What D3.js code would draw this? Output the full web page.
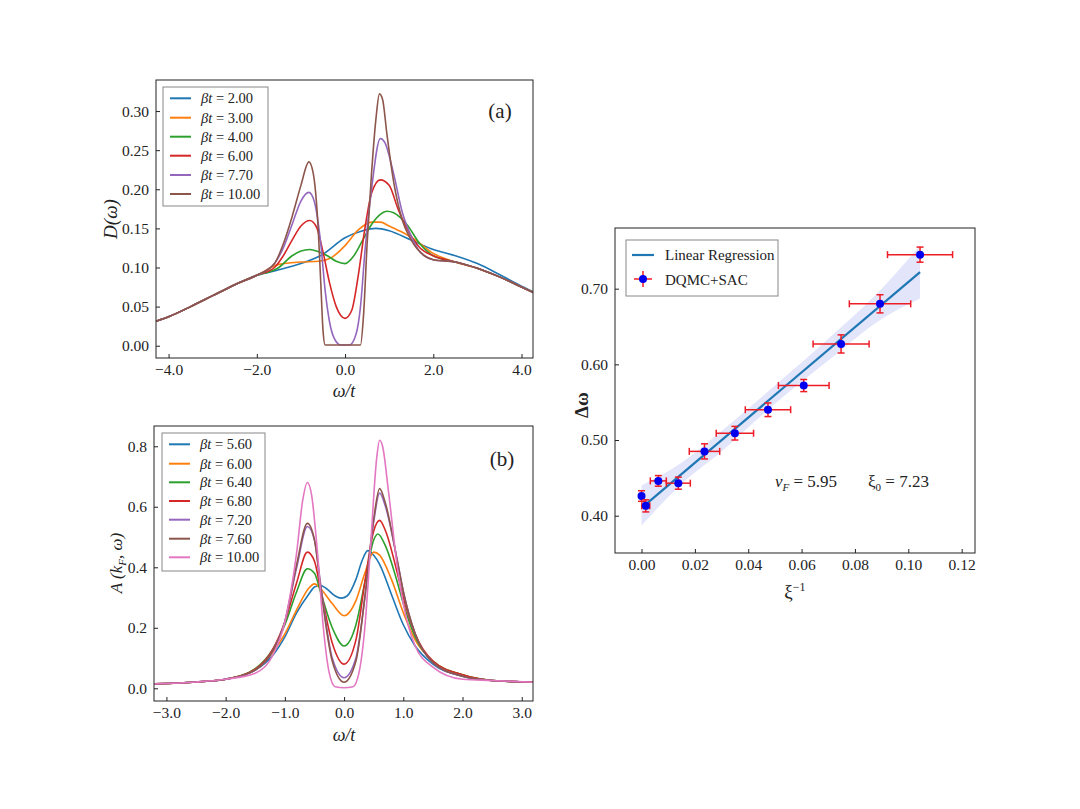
<!DOCTYPE html>
<html><head><meta charset="utf-8">
<script src="https://cdn.jsdelivr.net/npm/d3@7"></script>
<style>body{margin:0;background:#fff}svg{font-family:"Liberation Serif","DejaVu Serif",serif}</style>
</head><body><svg id="c" width="1080" height="809"></svg>
<script>
const colors=["#1f77b4","#ff7f0e","#2ca02c","#d62728","#9467bd","#8c564b","#e377c2"];
// Panel (a)
const aLabels=["2.00","3.00","4.00","6.00","7.70","10.00"];
const aLeft=[[-4.3,0.031],[-4,0.037],[-3.5,0.05],[-3,0.064],[-2.5,0.078],[-2,0.09]];
const aRight=[[2.5,0.107],[3,0.099],[3.5,0.088],[4,0.075],[4.3,0.067]];
const aMid=[
 [[-1.5,0.097],[-1,0.105],[-0.5,0.117],[0,0.138],[0.4,0.147],[0.7,0.15],[1.0,0.147],[1.5,0.135],[2,0.123],[2.5,0.115],[3,0.105],[3.5,0.091],[4,0.076],[4.3,0.068]],
 [[-1.5,0.104],[-1,0.107],[-0.6,0.108],[-0.3,0.113],[0,0.128],[0.3,0.148],[0.6,0.158],[0.8,0.158],[1.0,0.153],[1.3,0.145],[1.6,0.135],[2,0.118]],
 [[-1.5,0.1],[-1.2,0.115],[-1.0,0.121],[-0.8,0.123],[-0.6,0.12],[-0.4,0.115],[-0.2,0.108],[0,0.105],[0.2,0.115],[0.4,0.135],[0.6,0.155],[0.8,0.168],[0.95,0.172],[1.1,0.17],[1.4,0.155],[1.7,0.13],[2,0.115]],
 [[-1.6,0.1],[-1.4,0.115],[-1.2,0.135],[-1.0,0.153],[-0.8,0.16],[-0.65,0.152],[-0.5,0.12],[-0.35,0.08],[-0.2,0.05],[0,0.035],[0.15,0.045],[0.3,0.09],[0.45,0.15],[0.6,0.195],[0.8,0.212],[1.0,0.205],[1.2,0.175],[1.4,0.15],[1.7,0.125],[2,0.115]],
 [[-1.6,0.105],[-1.4,0.125],[-1.2,0.155],[-1.0,0.185],[-0.82,0.196],[-0.7,0.185],[-0.55,0.13],[-0.45,0.07],[-0.35,0.03],[-0.25,0.01],[-0.1,0.001],[0.1,0.001],[0.25,0.015],[0.35,0.05],[0.45,0.12],[0.6,0.2],[0.8,0.265],[0.9,0.26],[1.1,0.22],[1.3,0.17],[1.5,0.14],[1.7,0.12],[2,0.11]],
 [[-1.6,0.105],[-1.4,0.13],[-1.2,0.165],[-1.0,0.205],[-0.82,0.235],[-0.72,0.22],[-0.62,0.16],[-0.55,0.08],[-0.5,0.02],[-0.45,0.001],[0.35,0.001],[0.42,0.04],[0.5,0.13],[0.6,0.22],[0.7,0.29],[0.78,0.322],[0.85,0.315],[0.95,0.27],[1.1,0.21],[1.3,0.16],[1.5,0.135],[1.8,0.115],[2,0.11]]
];
// Panel (b)
const bLabels=["5.60","6.00","6.40","6.80","7.20","7.60","10.00"];
const bLeft=[[-3.2,0.015],[-2.5,0.021],[-2,0.03]];
const bRight=[[2.5,0.026],[3.2,0.02]];
const bMid=[
 [[-1.5,0.06],[-1.2,0.11],[-1.0,0.17],[-0.8,0.25],[-0.6,0.31],[-0.5,0.335],[-0.4,0.34],[-0.3,0.33],[-0.15,0.305],[-0.05,0.298],[0.05,0.305],[0.2,0.36],[0.3,0.42],[0.4,0.455],[0.5,0.44],[0.6,0.41],[0.8,0.31],[1.0,0.21],[1.2,0.14],[1.5,0.08],[2,0.04]],
 [[-1.5,0.062],[-1.2,0.12],[-1.0,0.18],[-0.8,0.26],[-0.6,0.33],[-0.5,0.345],[-0.4,0.33],[-0.2,0.28],[0,0.24],[0.2,0.29],[0.35,0.38],[0.5,0.45],[0.6,0.44],[0.8,0.36],[1.0,0.25],[1.2,0.16],[1.5,0.09],[2,0.045]],
 [[-1.5,0.065],[-1.2,0.13],[-1.0,0.21],[-0.8,0.32],[-0.62,0.395],[-0.5,0.38],[-0.4,0.32],[-0.2,0.2],[0,0.14],[0.2,0.21],[0.35,0.35],[0.5,0.49],[0.57,0.51],[0.7,0.47],[0.9,0.35],[1.0,0.28],[1.2,0.17],[1.5,0.09],[2,0.045]],
 [[-1.5,0.063],[-1.2,0.13],[-1.0,0.22],[-0.8,0.35],[-0.62,0.45],[-0.5,0.42],[-0.4,0.33],[-0.2,0.15],[0,0.08],[0.2,0.16],[0.35,0.35],[0.5,0.52],[0.6,0.555],[0.7,0.52],[0.9,0.38],[1.0,0.3],[1.2,0.18],[1.5,0.09],[2,0.045]],
 [[-1.5,0.06],[-1.2,0.125],[-1.0,0.22],[-0.8,0.4],[-0.62,0.535],[-0.5,0.49],[-0.4,0.35],[-0.2,0.1],[0,0.035],[0.2,0.1],[0.35,0.3],[0.5,0.55],[0.6,0.645],[0.7,0.6],[0.9,0.42],[1.0,0.32],[1.2,0.18],[1.5,0.085],[2,0.04]],
 [[-1.5,0.06],[-1.2,0.125],[-1.0,0.22],[-0.8,0.41],[-0.62,0.545],[-0.5,0.49],[-0.4,0.34],[-0.2,0.09],[0,0.02],[0.2,0.09],[0.35,0.3],[0.5,0.56],[0.6,0.66],[0.7,0.61],[0.9,0.42],[1.0,0.32],[1.2,0.18],[1.5,0.085],[2,0.04]],
 [[-1.5,0.05],[-1.2,0.11],[-1.0,0.22],[-0.8,0.45],[-0.7,0.62],[-0.62,0.68],[-0.55,0.64],[-0.45,0.45],[-0.35,0.2],[-0.25,0.05],[-0.15,0.005],[0,0.002],[0.15,0.005],[0.25,0.05],[0.35,0.2],[0.45,0.48],[0.55,0.76],[0.6,0.82],[0.65,0.8],[0.75,0.65],[0.9,0.4],[1.0,0.28],[1.2,0.14],[1.5,0.07],[2,0.03]]
];
// Panel (c)
const cX=[0.0,0.0016,0.0063,0.0138,0.0236,0.035,0.0474,0.0608,0.0748,0.0894,0.1044];
const cY=[0.426,0.413,0.446,0.443,0.485,0.509,0.540,0.572,0.627,0.680,0.745];
const cXerr=[0.0,0.0015,0.003,0.0045,0.0057,0.007,0.0085,0.0095,0.0105,0.0115,0.0122];
const cYerr=[0.007,0.008,0.007,0.008,0.01,0.009,0.009,0.008,0.012,0.012,0.01];
const fitX=[0.0016,0.1044];
const fitY=[0.415,0.722];
const bandX=[0.0,0.015,0.03,0.05,0.07,0.09,0.1044];
const bandLo=[0.387,0.442,0.485,0.548,0.605,0.660,0.687];
const bandHi=[0.440,0.470,0.512,0.572,0.634,0.700,0.757];

const svg=d3.select("#c");
function frame(x0,y0,x1,y1){
  svg.append("rect").attr("x",x0).attr("y",y0).attr("width",x1-x0).attr("height",y1-y0).attr("fill","none").attr("stroke","#222").attr("stroke-width",1);
}
function axes(x,y,xt,xf,yt,yf,x0,y0,x1,y1){
  const gx=svg.append("g").attr("transform",`translate(0,${y1})`).call(d3.axisBottom(x).tickValues(xt).tickFormat(xf).tickSizeInner(-4).tickSizeOuter(0).tickPadding(6));
  const gy=svg.append("g").attr("transform",`translate(${x0},0)`).call(d3.axisLeft(y).tickValues(yt).tickFormat(yf).tickSizeInner(-4).tickSizeOuter(0).tickPadding(7));
  [gx,gy].forEach(g=>{g.select(".domain").remove();g.selectAll("text").attr("font-size",15.5).attr("fill","#222").attr("font-family","Liberation Serif, serif");g.selectAll("line").attr("stroke","#222");});
}
function clip(id,x0,y0,x1,y1){svg.append("clipPath").attr("id",id).append("rect").attr("x",x0).attr("y",y0).attr("width",x1-x0).attr("height",y1-y0);}
function legendBeta(x0,y0,w,h,labels,rowY){
  svg.append("rect").attr("x",x0).attr("y",y0).attr("width",w).attr("height",h).attr("fill","#fff").attr("stroke","#888").attr("stroke-width",1);
  labels.forEach((l,i)=>{
    const yy=rowY[i];
    svg.append("line").attr("x1",x0+7).attr("x2",x0+28).attr("y1",yy).attr("y2",yy).attr("stroke",colors[i]).attr("stroke-width",2);
    const t=svg.append("text").attr("x",x0+38).attr("y",yy+5).attr("font-size",14.5).attr("fill","#222");
    t.append("tspan").attr("font-style","italic").text("βt");
    t.append("tspan").text(" = "+l);
  });
}
function omegaT(cx,cy){
  svg.append("text").attr("x",cx).attr("y",cy).attr("text-anchor","middle").attr("font-size",18).attr("font-style","italic").attr("fill","#222").text("ω/t");
}
// ---- (a)
{
const x0=156,x1=533,y0=80,y1=358;
const x=d3.scaleLinear().domain([-4.285,4.26]).range([x0,x1]);
const y=d3.scaleLinear().domain([-0.0157,0.3397]).range([y1,y0]);
clip("ca",x0,y0,x1,y1);
const line=d3.line().x(d=>x(d[0])).y(d=>y(d[1])).curve(d3.curveMonotoneX);
aMid.forEach((m,i)=>{
  let pts=aLeft.concat(m);
  if(pts[pts.length-1][0]<2.2) pts=pts.concat(aRight);
  svg.append("path").attr("d",line(pts)).attr("fill","none").attr("stroke",colors[i]).attr("stroke-width",1.6).attr("clip-path","url(#ca)");
});
frame(x0,y0,x1,y1);
axes(x,y,[-4,-2,0,2,4],d3.format(".1f"),[0,0.05,0.1,0.15,0.2,0.25,0.3],d3.format(".2f"),x0,y0,x1,y1);
legendBeta(163,87,105,119,aLabels,[98.3,117.7,136.7,155.7,175,194]);
svg.append("text").attr("x",500).attr("y",118).attr("text-anchor","middle").attr("font-size",21).attr("fill","#222").text("(a)");
omegaT(344,397);
svg.append("text").attr("transform","translate(117,219) rotate(-90)").attr("text-anchor","middle").attr("font-size",19).attr("font-style","italic").attr("fill","#222").text("D(ω)");
}
// ---- (b)
{
const x0=154,x1=533,y0=426,y1=701;
const x=d3.scaleLinear().domain([-3.21,3.19]).range([x0,x1]);
const y=d3.scaleLinear().domain([-0.042,0.867]).range([y1,y0]);
clip("cb",x0,y0,x1,y1);
const line=d3.line().x(d=>x(d[0])).y(d=>y(d[1])).curve(d3.curveMonotoneX);
bMid.forEach((m,i)=>{
  const pts=bLeft.concat(m,bRight);
  svg.append("path").attr("d",line(pts)).attr("fill","none").attr("stroke",colors[i]).attr("stroke-width",1.6).attr("clip-path","url(#cb)");
});
frame(x0,y0,x1,y1);
axes(x,y,[-3,-2,-1,0,1,2,3],d3.format(".1f"),[0,0.2,0.4,0.6,0.8],d3.format(".1f"),x0,y0,x1,y1);
legendBeta(162,433,103,138,bLabels,[444.3,463.7,482.3,501,519.7,538.7,557.3]);
svg.append("text").attr("x",502).attr("y",466).attr("text-anchor","middle").attr("font-size",21).attr("fill","#222").text("(b)");
omegaT(344,741);
const yl=svg.append("text").attr("transform","translate(122,563) rotate(-90)").attr("text-anchor","middle").attr("font-size",17).attr("font-style","italic").attr("fill","#222");
yl.append("tspan").text("A (k");
yl.append("tspan").attr("font-size",11).attr("dy",4).text("F");yl.append("tspan").attr("dy",-4).text(", ω)");
}
// ---- (c)
{
const x0=615,x1=975,y0=228,y1=553;
const x=d3.scaleLinear().domain([-0.00994,0.1250]).range([x0,x1]);
const y=d3.scaleLinear().domain([0.3507,0.7802]).range([y1,y0]);
const band=d3.area().x((d,i)=>x(bandX[i])).y0((d,i)=>y(bandLo[i])).y1((d,i)=>y(bandHi[i])).curve(d3.curveMonotoneX);
svg.append("path").attr("d",band(bandX)).attr("fill","#e3e5fb");
svg.append("line").attr("x1",x(fitX[0])).attr("x2",x(fitX[1])).attr("y1",y(fitY[0])).attr("y2",y(fitY[1])).attr("stroke","#1f77b4").attr("stroke-width",2.2);
const red="#ee1c25";
cX.forEach((cx,i)=>{
  const px=x(cx),py=y(cY[i]);
  if(cXerr[i]>0){
    svg.append("line").attr("x1",x(cx-cXerr[i])).attr("x2",x(cx+cXerr[i])).attr("y1",py).attr("y2",py).attr("stroke",red).attr("stroke-width",1.5);
    [cx-cXerr[i],cx+cXerr[i]].forEach(v=>svg.append("line").attr("x1",x(v)).attr("x2",x(v)).attr("y1",py-3.5).attr("y2",py+3.5).attr("stroke",red).attr("stroke-width",1.5));
  }
  svg.append("line").attr("x1",px).attr("x2",px).attr("y1",y(cY[i]-cYerr[i])).attr("y2",y(cY[i]+cYerr[i])).attr("stroke",red).attr("stroke-width",1.5);
  [cY[i]-cYerr[i],cY[i]+cYerr[i]].forEach(v=>svg.append("line").attr("x1",px-3.5).attr("x2",px+3.5).attr("y1",y(v)).attr("y2",y(v)).attr("stroke",red).attr("stroke-width",1.5));
  svg.append("circle").attr("cx",px).attr("cy",py).attr("r",4).attr("fill","#0000ee");
});
frame(x0,y0,x1,y1);
axes(x,y,[0,0.02,0.04,0.06,0.08,0.1,0.12],d3.format(".2f"),[0.4,0.5,0.6,0.7],d3.format(".2f"),x0,y0,x1,y1);
svg.append("rect").attr("x",626).attr("y",240).attr("width",152).attr("height",56).attr("fill","#fff").attr("stroke","#888");
svg.append("line").attr("x1",632).attr("x2",654).attr("y1",255).attr("y2",255).attr("stroke","#1f77b4").attr("stroke-width",2.2);
svg.append("text").attr("x",665).attr("y",260).attr("font-size",15).attr("fill","#222").text("Linear Regression");
svg.append("line").attr("x1",634).attr("x2",652).attr("y1",279).attr("y2",279).attr("stroke",red).attr("stroke-width",1.5);
svg.append("line").attr("x1",643).attr("x2",643).attr("y1",271).attr("y2",287).attr("stroke",red).attr("stroke-width",1.5);
svg.append("circle").attr("cx",643).attr("cy",279).attr("r",4).attr("fill","#0000ee");
svg.append("text").attr("x",665).attr("y",285).attr("font-size",15).attr("fill","#222").text("DQMC+SAC");
const t1=svg.append("text").attr("x",775).attr("y",487).attr("font-size",17).attr("fill","#222");
t1.append("tspan").attr("font-style","italic").text("v");t1.append("tspan").attr("font-style","italic").attr("font-size",11).attr("dy",4).text("F");t1.append("tspan").attr("dy",-4).text(" = 5.95");
const t2=svg.append("text").attr("x",868).attr("y",487).attr("font-size",17).attr("fill","#222");
t2.append("tspan").text("ξ");t2.append("tspan").attr("font-size",11).attr("dy",4).text("0");t2.append("tspan").attr("dy",-4).text(" = 7.23");
svg.append("text").attr("transform","translate(588,405) rotate(-90)").attr("text-anchor","middle").attr("font-size",19).attr("font-weight","bold").attr("fill","#222").text("Δω");
const xl=svg.append("text").attr("x",795).attr("y",598).attr("text-anchor","middle").attr("font-size",19).attr("fill","#222");
xl.append("tspan").text("ξ");xl.append("tspan").attr("font-size",12).attr("dy",-7).text("−1");
}
</script></body></html>
